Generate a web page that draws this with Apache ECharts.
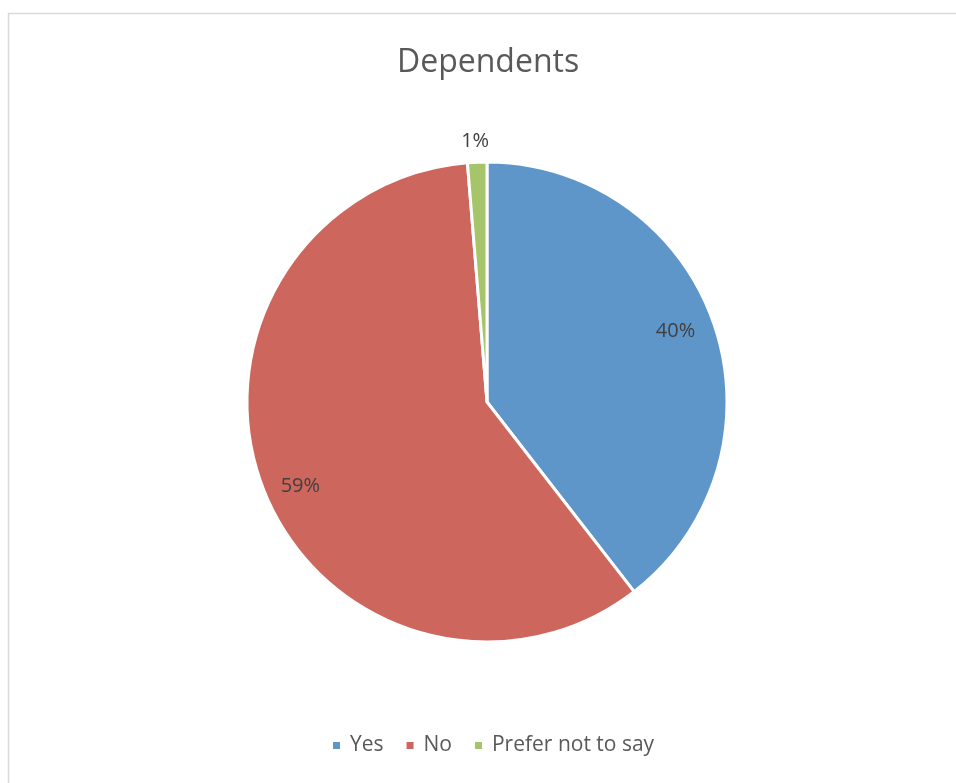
<!DOCTYPE html>
<html>
<head>
<meta charset="utf-8">
<script src="https://cdn.jsdelivr.net/npm/echarts@6/dist/echarts.min.js"></script>
<style>
html,body{margin:0;padding:0;background:#fff;}
#chart{width:956px;height:783px;}
</style>
</head>
<body>
<div id="chart"></div>
<script>
const titleText = 'Dependents';
const categories = ['Yes', 'No', 'Prefer not to say'];
const values = [39.5, 59.2, 1.3];
const colors = ['#5F96CA', '#CD665C', '#A6C46A'];

const FONT = '"Open Sans", Lato, sans-serif';
const chart = echarts.init(document.getElementById('chart'), null, {renderer: 'canvas'});

const baseData = categories.map((c, i) => ({name: c, value: values[i], itemStyle: {color: colors[i]}}));
const fmt = p => Math.round(p.percent) + '%';
const center = [487, 402];
const innerOffsets = [[-5, -4], [4, 10], [0, 0]];

chart.setOption({
  animation: false,
  backgroundColor: '#fff',
  graphic: [{
    type: 'rect', left: 6, top: 11, shape: {width: 960, height: 780},
    style: {fill: 'none', stroke: '#d9d9d9', lineWidth: 1.5}, silent: true, z: -10
  }],
  title: {
    text: titleText, left: 392, top: 42,
    textStyle: {fontFamily: FONT, fontSize: 32, fontWeight: 'normal', color: '#595959'}
  },
  legend: {
    data: categories, bottom: 22, left: 326,
    icon: 'rect', itemWidth: 9, itemHeight: 9, itemGap: 21,
    textStyle: {fontFamily: FONT, fontSize: 21, color: '#595959', padding: [0, 0, 0, 4]}
  },
  series: [
    {
      type: 'pie', center: center, radius: [0, 240], startAngle: 90, clockwise: true,
      data: baseData,
      itemStyle: {borderColor: '#fff', borderWidth: 3},
      label: {show: false}, labelLine: {show: false}, silent: true
    },
    {
      type: 'pie', center: center, radius: [163, 240], startAngle: 90, clockwise: true,
      data: categories.map((c, i) => ({name: c, value: values[i], label: {show: i < 2, offset: innerOffsets[i]}})),
      itemStyle: {color: 'rgba(0,0,0,0)', borderWidth: 0},
      label: {position: 'inside', formatter: fmt, fontFamily: FONT, fontSize: 20, color: '#404040'},
      labelLine: {show: false}, silent: true, legendHoverLink: false
    },
    {
      type: 'pie', center: center, radius: [240, 286], startAngle: 90, clockwise: true,
      data: categories.map((c, i) => ({name: c, value: values[i], label: {show: i === 2, offset: [-1, 5]}})),
      itemStyle: {color: 'rgba(0,0,0,0)', borderWidth: 0},
      label: {position: 'inside', formatter: fmt, fontFamily: FONT, fontSize: 20, color: '#404040'},
      labelLine: {show: false}, silent: true, legendHoverLink: false
    }
  ]
});
</script>
</body>
</html>
